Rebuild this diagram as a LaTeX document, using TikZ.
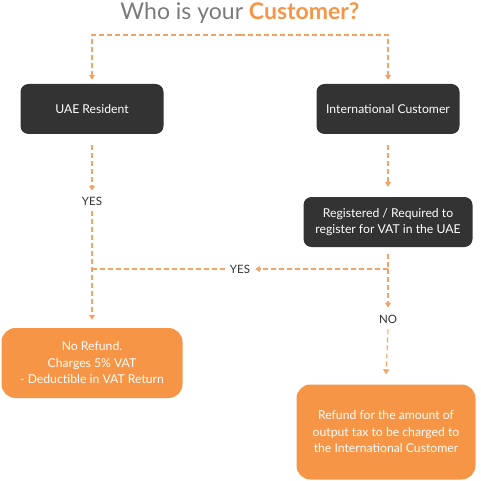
\documentclass[tikz,border=0pt]{standalone}
\usepackage{fontspec}
\setmainfont{Lato}
\usetikzlibrary{arrows.meta}
\definecolor{dark}{HTML}{333333}
\definecolor{org}{HTML}{F79546}
\definecolor{arr}{HTML}{F5A266}
\definecolor{ttl}{HTML}{7A7A7A}
\tikzset{
  darkbox/.style={fill=dark, rounded corners=8pt, text=white, align=center, font=\fontsize{12.2}{16}\selectfont, inner sep=0pt},
  orgbox/.style={fill=org, rounded corners=14pt, text=white, align=center, font=\fontsize{12.2}{16.5}\selectfont, inner sep=0pt},
  lbl/.style={text=dark, font=\fontsize{11.5}{13}\selectfont, inner sep=1pt},
  dl/.style={draw=arr, line width=1.1pt, dash pattern=on 5pt off 3pt},
  tip/.style={-{Triangle[width=6pt,length=5pt]}}
}
\begin{document}
\begin{tikzpicture}[x=1pt,y=-1pt]
\useasboundingbox (0,0) rectangle (480,481);
\node (title) at (240,13) {\fontsize{23}{26}\selectfont\textcolor{ttl}{Who is your} \textcolor{org}{\textbf{Customer?}}};
\node[darkbox, minimum width=143pt, minimum height=50pt] (uae) at (92,109) {UAE Resident};
\node[darkbox, minimum width=143pt, minimum height=50pt] (intl) at (388,109) {International Customer};
\node[darkbox, minimum width=169pt, minimum height=50pt] (reg) at (388,222) {Registered / Required to\\register for VAT in the UAE};
\node[orgbox, minimum width=181pt, minimum height=70pt] (nr) at (92,363) {No Refund.\\Charges 5\% VAT\\- Deductible in VAT Return};
\node[orgbox, minimum width=179pt, minimum height=95pt] (rf) at (386,432) {Refund for the amount of\\output tax to be charged to\\the International Customer};
\node[lbl] (yes1) at (92,201) {YES};
\node[lbl] (yes2) at (240,269) {YES};
\node[lbl] (no) at (388,319) {NO};
\coordinate (tm) at (240,35);
\coordinate (j1) at (92,269);
\coordinate (j2) at (388,269);
\draw[dl,tip] (tm) -| ([yshift=4pt]uae.north);
\draw[dl,tip] (tm) -| ([yshift=4pt]intl.north);
\draw[dl,tip] ([yshift=-11pt]uae.south) -- ([yshift=5pt]yes1.north);
\draw[dl,tip] ([yshift=-11pt]intl.south) -- ([yshift=10pt]reg.north);
\draw[dl,tip] ([yshift=-5pt]yes1.south) -- ([yshift=8pt]nr.north);
\draw[dl] ([yshift=-7pt]reg.south) -- (j2);
\draw[dl,tip] (j2) -- ([xshift=4pt]yes2.east);
\draw[dl] ([xshift=-4pt]yes2.west) -- (j1);
\draw[dl,tip] (j2) -- ([yshift=6pt]no.north);
\draw[dl,tip] ([yshift=-5pt]no.south) -- ([yshift=10pt]rf.north);
\end{tikzpicture}
\end{document}
